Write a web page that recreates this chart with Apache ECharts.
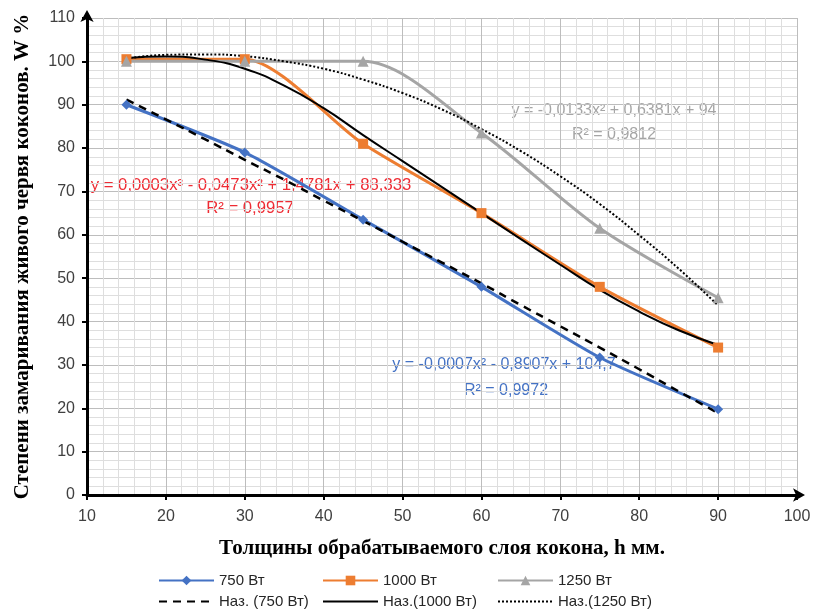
<!DOCTYPE html>
<html>
<head>
<meta charset="utf-8">
<script src="https://cdn.jsdelivr.net/npm/echarts@6/dist/echarts.min.js"></script>
<style>
  html, body { margin: 0; padding: 0; background: #fff; }
  #chart { width: 818px; height: 609px; }
</style>
</head>
<body>
<div id="chart"></div>
<script>
// толщина слоя, мм
var xValues = [15, 30, 45, 60, 75, 90];
// измерения
var w750 = [90, 79, 63.5, 48, 31.7, 19.8];
var w1000 = [100.5, 100.5, 81, 65, 48, 34];
var w1250 = [100, 100, 100, 83.5, 61.5, 45.5];
// линии тренда
var trendX = [15, 20, 25, 30, 35, 40, 45, 50, 55, 60, 65, 70, 75, 80, 85, 90];
var trend750 = [91.2, 86.6, 82.0, 77.3, 72.7, 67.9, 63.2, 58.4, 53.6, 48.8, 43.8, 38.9, 34.0, 29.0, 23.9, 18.9];
var trend1000 = [100.8, 101.1, 100.4, 98.3, 94.4, 89.2, 83.0, 77.0, 71.0, 65.0, 59.0, 53.1, 47.3, 42.3, 38.0, 34.6];
var trend1250 = [100.6, 101.5, 101.6, 101.2, 100.0, 98.3, 95.8, 92.7, 88.9, 84.4, 79.3, 73.5, 67.1, 59.9, 52.2, 43.7];

function pairs(xs, ys) {
    return xs.map(function (x, i) { return [x, ys[i]]; });
}

var sansFont = '"Liberation Sans", Arial, sans-serif';
var serifFont = '"Liberation Serif", "DejaVu Serif", serif';

var legendText = { fontFamily: sansFont, fontSize: 15, color: '#262626' };
var noMarker = { color: 'rgba(0,0,0,0)', borderWidth: 0 };

// одна легенда на каждую запись, чтобы колонки стояли как в оригинале
function legendItem(left, top, name, isTrend) {
    return {
        left: left,
        top: top,
        padding: 0,
        itemWidth: 55,
        itemHeight: 12,
        textStyle: legendText,
        data: [isTrend ? { name: name, itemStyle: noMarker } : name]
    };
}

var option = {
    animation: false,
    backgroundColor: '#fff',
    grid: { left: 87, right: 21, top: 18, bottom: 114 },
    legend: [
        legendItem(158, 573, '750 Вт', false),
        legendItem(322, 573, '1000 Вт', false),
        legendItem(497, 573, '1250 Вт', false),
        legendItem(158, 594, 'Наз. (750 Вт)', true),
        legendItem(322, 594, 'Наз.(1000 Вт)', true),
        legendItem(497, 594, 'Наз.(1250 Вт)', true)
    ],
    xAxis: {
        type: 'value',
        min: 10,
        max: 100,
        interval: 10,
        name: 'Толщины обрабатываемого слоя кокона, h мм.',
        nameLocation: 'middle',
        nameGap: 43,
        nameTextStyle: { fontFamily: serifFont, fontWeight: 'bold', fontSize: 21, color: '#000' },
        axisLine: { show: true, lineStyle: { color: '#000', width: 3 }, symbol: ['none', 'arrow'], symbolSize: [10, 12], symbolOffset: [0, 8] },
        axisTick: { show: true, length: 5, lineStyle: { color: '#000', width: 2 } },
        axisLabel: { fontFamily: sansFont, fontSize: 16, color: '#404040', margin: 14 },
        splitLine: { show: true, lineStyle: { color: '#bdbdbd', width: 1 } },
        minorTick: { show: false, splitNumber: 5 },
        minorSplitLine: { show: true, lineStyle: { color: '#dedede', width: 1 } }
    },
    yAxis: {
        type: 'value',
        min: 0,
        max: 110,
        interval: 10,
        name: 'Степени замаривания живого червя коконов. W %',
        nameLocation: 'middle',
        nameRotate: 90,
        nameGap: 54,
        nameTextStyle: { fontFamily: serifFont, fontWeight: 'bold', fontSize: 21, color: '#000' },
        axisLine: { show: true, lineStyle: { color: '#000', width: 3 }, symbol: ['none', 'arrow'], symbolSize: [10, 12], symbolOffset: [0, 8] },
        axisTick: { show: true, length: 5, lineStyle: { color: '#000', width: 2 } },
        axisLabel: { fontFamily: sansFont, fontSize: 16, color: '#404040', margin: 12 },
        splitLine: { show: true, lineStyle: { color: '#bdbdbd', width: 1 } },
        minorTick: { show: false, splitNumber: 5 },
        minorSplitLine: { show: true, lineStyle: { color: '#dedede', width: 1 } }
    },
    series: [
        {
            name: '750 Вт', type: 'line', data: pairs(xValues, w750), smooth: 0.2,
            symbol: 'diamond', symbolSize: 10,
            itemStyle: { color: '#4472c4' }, lineStyle: { color: '#4472c4', width: 3 }
        },
        {
            name: '1000 Вт', type: 'line', data: pairs(xValues, w1000), smooth: 0.25,
            symbol: 'rect', symbolSize: 10,
            itemStyle: { color: '#ed7d31' }, lineStyle: { color: '#ed7d31', width: 3 }
        },
        {
            name: '1250 Вт', type: 'line', data: pairs(xValues, w1250), smooth: 0.3,
            symbol: 'triangle', symbolSize: 11,
            itemStyle: { color: '#a5a5a5' }, lineStyle: { color: '#a5a5a5', width: 3 }
        },
        {
            name: 'Наз. (750 Вт)', type: 'line', data: pairs(trendX, trend750), smooth: true,
            symbol: 'none', itemStyle: { color: '#000' },
            lineStyle: { color: '#000', width: 2.5, type: [8, 6] }
        },
        {
            name: 'Наз.(1000 Вт)', type: 'line', data: pairs(trendX, trend1000), smooth: true,
            symbol: 'none', itemStyle: { color: '#000' },
            lineStyle: { color: '#000', width: 2 }
        },
        {
            name: 'Наз.(1250 Вт)', type: 'line', data: pairs(trendX, trend1250), smooth: true,
            symbol: 'none', itemStyle: { color: '#000' },
            lineStyle: { color: '#000', width: 2, type: [2, 2] }
        }
    ],
    graphic: [
        { type: 'text', x: 251, y: 185, style: { text: 'y = 0,0003x³ - 0,0473x² + 1,4781x + 88,333', fill: '#ee2c34', font: '16.7px ' + sansFont, textAlign: 'center', textVerticalAlign: 'middle' } },
        { type: 'text', x: 250, y: 208, style: { text: 'R² = 0,9957', fill: '#ee2c34', font: '16.7px ' + sansFont, textAlign: 'center', textVerticalAlign: 'middle' } },
        { type: 'text', x: 614, y: 111, style: { text: 'y = -0,0133x² + 0,6381x + 94', fill: '#a5a5a5', font: '16px ' + sansFont, textAlign: 'center', textVerticalAlign: 'middle' } },
        { type: 'text', x: 614, y: 135, style: { text: 'R² = 0,9812', fill: '#a5a5a5', font: '16px ' + sansFont, textAlign: 'center', textVerticalAlign: 'middle' } },
        { type: 'text', x: 504, y: 365, style: { text: 'y = -0,0007x² - 0,8907x + 104,7', fill: '#4472c4', font: '16px ' + sansFont, textAlign: 'center', textVerticalAlign: 'middle' } },
        { type: 'text', x: 506, y: 391, style: { text: 'R² = 0,9972', fill: '#4472c4', font: '16px ' + sansFont, textAlign: 'center', textVerticalAlign: 'middle' } }
    ]
};

echarts.init(document.getElementById('chart')).setOption(option);
</script>
</body>
</html>
